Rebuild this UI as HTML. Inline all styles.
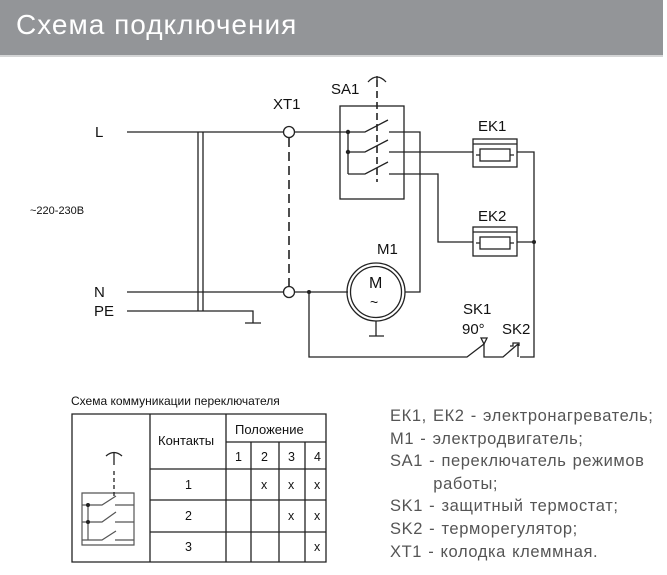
<!DOCTYPE html>
<html><head><meta charset="utf-8"><style>
body{margin:0;width:667px;height:575px;background:#fff;overflow:hidden;position:relative;font-family:"Liberation Sans","DejaVu Sans",sans-serif}
.hdr{position:absolute;left:0;top:0;width:663px;height:55px;background:#939598;border-bottom:2px solid #d4d5d6}
.hdr span{position:absolute;left:16px;top:9px;color:#fff;font-size:28px;letter-spacing:1px}
.leg{position:absolute;left:390px;top:405px;font-size:16.5px;line-height:22.6px;color:#555;white-space:nowrap;letter-spacing:0.6px;word-spacing:1px}
</style></head><body>
<div class="hdr"><span>Схема подключения</span></div>
<svg width="667" height="575" style="position:absolute;left:0;top:0" font-family="Liberation Sans, DejaVu Sans, sans-serif">
<g stroke="#222" stroke-width="1.3" fill="none">
<path d="M127 132H284M127 292H284M127 311H253V323M245 323H261"/>
<path d="M198 132V311M203 132V311"/>
<path d="M289 138V287" stroke-dasharray="9,5" stroke-width="1.6"/>
<circle cx="289" cy="132" r="5.5" fill="#fff"/><circle cx="289" cy="292" r="5.5" fill="#fff"/>
<path d="M294 132H365L388 120M294 292H348"/>
<rect x="340" y="106" width="64" height="93"/>
<path d="M348 132V174M348 152H365L388 140M348 174H365L388 162"/>
<path d="M389 132H420V292H405M389 152H473M389 174H438V242H473"/>
<path d="M377 80V182" stroke-dasharray="7,4" stroke-width="1.6"/>
<path d="M368 82Q377 72 386 82M377 76V80"/>
<rect x="473" y="139" width="44" height="28"/><path d="M473 144H517"/><rect x="480" y="149" width="30" height="12"/><path d="M476 155H480M510 155H514"/>
<rect x="473" y="227" width="44" height="29"/><path d="M473 232H517"/><rect x="480" y="237" width="30" height="12"/><path d="M476 243H480M510 243H514"/>
<path d="M517 152H534V357H520M517 242H534"/>
<circle cx="376" cy="292" r="29"/><circle cx="376" cy="292" r="25.5"/>
<path d="M376 321V336M369 336H384"/>
<path d="M309 292V357H467L484 344M484 344V357H503L518 344M518 344V357"/>
<path d="M481 338L484 344L487 338Z M510 346H513V343H519V346"/>
<path d="M72 414H326V562H72Z M150 414V562M226 414V562M251 442V562M279 442V562M305 442V562M226 442H326M150 469H326M150 500H326M150 532H326"/>
<path d="M82 493H134V545H82Z M82 505H102L116 496M82 522H102L116 512M82 540H102L116 531M88 505V540M115 505H134M115 522H134M115 540H134" stroke="#555" stroke-width="1.2"/>
<path d="M114 471V497" stroke="#222" stroke-dasharray="4,3"/>
<path d="M106 456Q114 449 122 456M114 452V465"/>
</g>
<g fill="#222">
<circle cx="348" cy="132" r="2.2"/><circle cx="348" cy="152" r="2.2"/><circle cx="309" cy="292" r="2"/><circle cx="534" cy="242" r="2"/>
<circle cx="88" cy="505" r="2"/><circle cx="88" cy="522" r="2"/>
</g>
<g font-size="15" fill="#111">
<text x="95" y="137">L</text><text x="94" y="297">N</text><text x="94" y="316">PE</text>
<text x="273" y="109">XT1</text><text x="331" y="94">SA1</text><text x="478" y="131">EK1</text><text x="478" y="221">EK2</text>
<text x="377" y="254">M1</text><text x="463" y="314">SK1</text><text x="462" y="334">90°</text><text x="502" y="334">SK2</text>
<text x="369" y="288" font-size="16">M</text><text x="370" y="307" font-size="14">~</text>
</g>
<text x="30" y="214" font-size="11" fill="#111">~220-230В</text>
<g font-size="12.5" fill="#111">
<text x="71" y="405" font-size="12">Схема коммуникации переключателя</text>
<text x="158" y="445" font-size="13">Контакты</text><text x="235" y="434" font-size="13">Положение</text>
<text x="235" y="461">1</text><text x="261" y="461">2</text><text x="288" y="461">3</text><text x="314" y="461">4</text>
<text x="185" y="489">1</text><text x="185" y="520">2</text><text x="185" y="551">3</text>
<text x="261" y="489">x</text><text x="288" y="489">x</text><text x="314" y="489">x</text>
<text x="288" y="520">x</text><text x="314" y="520">x</text><text x="314" y="551">x</text>
</g>
</svg>
<div class="leg">ЕК1, ЕК2 - электронагреватель;<br>М1 - электродвигатель;<br>SA1 - переключатель режимов<br>&nbsp;&nbsp;&nbsp;&nbsp;&nbsp;&nbsp;&nbsp;работы;<br>SK1 - защитный термостат;<br>SK2 - терморегулятор;<br>XT1 - колодка клеммная.</div>
</body></html>
